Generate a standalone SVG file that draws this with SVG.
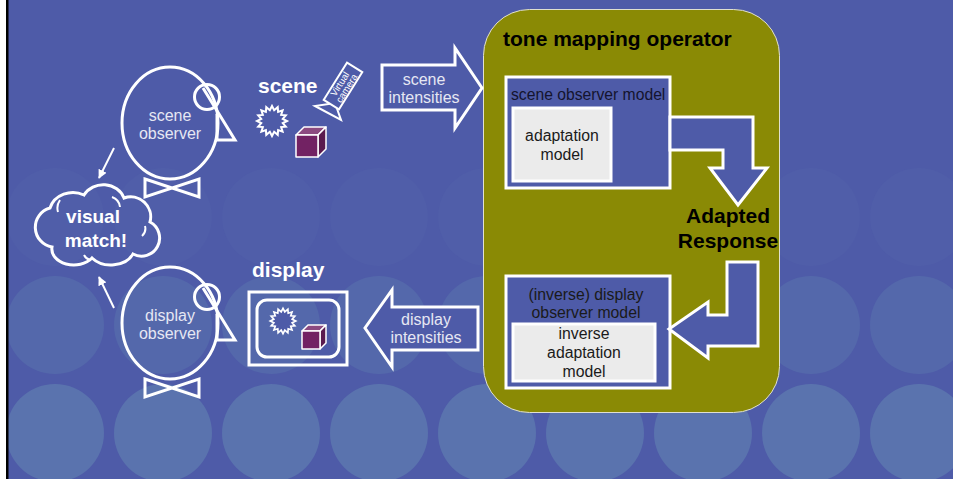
<svg xmlns="http://www.w3.org/2000/svg" width="953" height="479" viewBox="0 0 953 479">
  <style>
    text { font-family: "Liberation Sans", Arial, sans-serif; }
    .lite { fill: #E6E7F3; font-size: 16px; text-anchor: middle; }
    .head { fill: #FFFFFF; font-size: 21px; font-weight: bold; }
    .dark { fill: #14142E; font-size: 15.7px; }
    .darkc { fill: #1A1A1A; font-size: 15.8px; text-anchor: middle; }
    .bold { fill: #000000; font-size: 21px; font-weight: bold; }
    .outline { fill: none; stroke: #FFFFFF; stroke-width: 3; }
    .wire { fill: none; stroke: #FFFFFF; stroke-width: 2; }
    .blockarrow { fill: #4E5BA8; stroke: #FFFFFF; stroke-width: 3; stroke-linejoin: miter; }
    .model { fill: #4E5BA8; stroke: #FFFFFF; stroke-width: 3; }
    .inner { fill: #EBEBEB; stroke: #FFFFFF; stroke-width: 3; }
    .burst { fill: #4E5BA8; stroke: #FFFFFF; stroke-width: 2; stroke-linejoin: miter; }
    .cube-front { fill: #722263; stroke: #FFFFFF; stroke-width: 1.5; stroke-linejoin: round; }
    .cube-top { fill: #8C4A80; stroke: #FFFFFF; stroke-width: 1.5; stroke-linejoin: round; }
    .cube-side { fill: #5A1A4E; stroke: #FFFFFF; stroke-width: 1.5; stroke-linejoin: round; }
  </style>
  <defs>
    <marker id="tip" viewBox="0 0 10 10" refX="9" refY="5" markerWidth="4.5" markerHeight="4.5" orient="auto" markerUnits="strokeWidth">
      <path d="M0,0 L10,5 L0,10 Z" fill="#FFFFFF"/>
    </marker>
    <!-- 16-point starburst centred on the origin -->
    <polygon id="star" points="15,0 10.79,2.15 13.86,5.74 9.15,6.11 10.61,10.61 6.11,9.15 5.74,13.86 2.15,10.79 0,15 -2.15,10.79 -5.74,13.86 -6.11,9.15 -10.61,10.61 -9.15,6.11 -13.86,5.74 -10.79,2.15 -15,0 -10.79,-2.15 -13.86,-5.74 -9.15,-6.11 -10.61,-10.61 -6.11,-9.15 -5.74,-13.86 -2.15,-10.79 0,-15 2.15,-10.79 5.74,-13.86 6.11,-9.15 10.61,-10.61 9.15,-6.11 13.86,-5.74 10.79,-2.15"/>
  </defs>

  <!-- background -->
  <rect x="0" y="0" width="953" height="479" fill="#4E5BA8"/>
  <g id="dots">
    <g fill="#505EA9">
      <circle cx="55" cy="217" r="49"/><circle cx="163" cy="217" r="49"/><circle cx="271" cy="217" r="49"/>
      <circle cx="379" cy="217" r="49"/><circle cx="487" cy="217" r="49"/><circle cx="595" cy="217" r="49"/>
      <circle cx="703" cy="217" r="49"/><circle cx="811" cy="217" r="49"/><circle cx="919" cy="217" r="49"/>
    </g>
    <g fill="#5468AB">
      <circle cx="55" cy="325" r="49"/><circle cx="163" cy="325" r="49"/><circle cx="271" cy="325" r="49"/>
      <circle cx="379" cy="325" r="49"/><circle cx="487" cy="325" r="49"/><circle cx="595" cy="325" r="49"/>
      <circle cx="703" cy="325" r="49"/><circle cx="811" cy="325" r="49"/><circle cx="919" cy="325" r="49"/>
    </g>
    <g fill="#5A73AE">
      <circle cx="55" cy="433" r="49"/><circle cx="163" cy="433" r="49"/><circle cx="271" cy="433" r="49"/>
      <circle cx="379" cy="433" r="49"/><circle cx="487" cy="433" r="49"/><circle cx="595" cy="433" r="49"/>
      <circle cx="703" cy="433" r="49"/><circle cx="811" cy="433" r="49"/><circle cx="919" cy="433" r="49"/>
    </g>
  </g>
  <rect x="0" y="0" width="6" height="479" fill="#FFFFFF"/>
  <rect x="6" y="0" width="2.5" height="479" fill="#000000"/>

  <!-- tone mapping operator -->
  <g id="tmo">
    <rect x="483.5" y="9.5" width="296" height="403" rx="46" ry="46" fill="#8A8A05" stroke="#E0E0D0" stroke-width="1"/>
    <text class="bold" x="503" y="46" font-size="21.6">tone mapping operator</text>
  </g>

  <g id="scene-observer-model">
    <rect class="model" x="506" y="77" width="164" height="111"/>
    <text class="dark" x="511" y="100">scene observer model</text>
  </g>
  <g id="adaptation-model">
    <rect class="inner" x="513" y="108" width="98" height="73"/>
    <text class="darkc" x="562" y="141">adaptation</text>
    <text class="darkc" x="562" y="160">model</text>
  </g>

  <g id="adapted-response">
    <text class="bold" x="728" y="223" text-anchor="middle">Adapted</text>
    <text class="bold" x="728" y="248" text-anchor="middle">Response</text>
  </g>

  <g id="display-observer-model">
    <rect class="model" x="506" y="276" width="164" height="112"/>
    <text class="darkc" x="586" y="300">(inverse) display</text>
    <text class="darkc" x="586" y="318">observer model</text>
  </g>
  <g id="inverse-adaptation-model">
    <rect class="inner" x="513" y="324" width="142" height="57"/>
    <text class="darkc" x="584" y="339">inverse</text>
    <text class="darkc" x="584" y="358">adaptation</text>
    <text class="darkc" x="584" y="377">model</text>
  </g>

  <!-- scene observer -->
  <g id="scene-observer">
    <ellipse class="outline" cx="170" cy="123" rx="48" ry="56"/>
    <circle class="outline" cx="207" cy="97" r="12.5"/>
    <polyline class="outline" points="217,114 217,140 235,140 203,88"/>
    <path class="outline" d="M145,179 L199,197 L199,179 L145,197 Z"/>
    <text class="lite" x="170" y="121">scene</text>
    <text class="lite" x="170" y="139">observer</text>
  </g>

  <!-- display observer -->
  <g id="display-observer">
    <ellipse class="outline" cx="170" cy="323" rx="48" ry="56"/>
    <circle class="outline" cx="207" cy="297" r="12.5"/>
    <polyline class="outline" points="217,314 217,340 235,340 203,288"/>
    <path class="outline" d="M145,379 L199,397 L199,379 L145,397 Z"/>
    <text class="lite" x="170" y="321">display</text>
    <text class="lite" x="170" y="339">observer</text>
  </g>

  <!-- visual match cloud -->
  <g id="visual-match">
    <path class="outline" stroke-width="2.5" d="M52,247 A20,20 0 0 1 50,208 A24,22 0 0 1 84,195 A22,20 0 0 1 124,198 A20,20 0 0 1 150,222 A18,18 0 0 1 133,254 A24,18 0 0 1 92,258 A22,16 0 0 1 52,247 Z"/>
    <path class="wire" d="M58,212 A14,14 0 0 1 60,200 M112,197 A12,12 0 0 1 120,207 M145,226 A10,10 0 0 1 142,236 M84,255 A10,10 0 0 0 90,260"/>
    <text x="93" y="223" fill="#FFFFFF" font-size="19" font-weight="bold" text-anchor="middle">visual</text>
    <text x="96" y="247" fill="#FFFFFF" font-size="19" font-weight="bold" text-anchor="middle">match!</text>
  </g>

  <!-- scene -->
  <g id="scene">
    <text class="head" x="258" y="93">scene</text>
    <use href="#star" class="burst" transform="translate(272,121)"/>
    <polygon class="cube-top" points="296,135 304,127 326,127 318,135"/>
    <polygon class="cube-side" points="318,135 326,127 326,149 318,157"/>
    <rect class="cube-front" x="296" y="135" width="22" height="22"/>
  </g>

  <!-- virtual camera -->
  <g id="virtual-camera">
    <polygon class="burst" points="315,106 341,120 335,103"/>
    <g transform="translate(343,86) rotate(-58)">
      <rect x="-22" y="-9" width="44" height="18" fill="#4E5BA8" stroke="#FFFFFF" stroke-width="2"/>
      <text x="0" y="-0.5" fill="#FFFFFF" font-size="9.5" text-anchor="middle">Virtual</text>
      <text x="0" y="7.5" fill="#FFFFFF" font-size="9.5" text-anchor="middle">camera</text>
    </g>
  </g>

  <!-- display -->
  <g id="display">
    <text class="head" x="252" y="277">display</text>
    <rect class="outline" x="249" y="292" width="98" height="73"/>
    <rect class="outline" x="257" y="300" width="82" height="57" rx="10" ry="10"/>
    <use href="#star" class="burst" transform="translate(283,321) scale(0.85)"/>
    <polygon class="cube-top" points="302,331 308,325 326,325 320,331"/>
    <polygon class="cube-side" points="320,331 326,325 326,343 320,349"/>
    <rect class="cube-front" x="302" y="331" width="18" height="18"/>
  </g>

  <!-- block arrows with labels -->
  <g id="scene-intensities">
    <polygon class="blockarrow" points="382,65 455,65 455,48 482,88 455,128 455,110 382,110"/>
    <text class="lite" x="424" y="85">scene</text>
    <text class="lite" x="424" y="103">intensities</text>
  </g>
  <g id="display-intensities">
    <polygon class="blockarrow" points="478,307 392,307 392,290 365,328 392,367 392,350 478,350"/>
    <text class="lite" x="426" y="325">display</text>
    <text class="lite" x="426" y="343">intensities</text>
  </g>

  <!-- connectors -->
  <g id="connectors">
    <polygon class="blockarrow" points="670,117 753,117 753,168 767,168 738,205 710,168 723,168 723,150 670,150"/>
    <polygon class="blockarrow" points="727,262 758,262 758,346 708,346 708,358 669,329 708,302 708,315 727,315"/>
    <line class="wire" x1="114" y1="148" x2="99" y2="178" marker-end="url(#tip)"/>
    <line class="wire" x1="114" y1="308" x2="99" y2="277" marker-end="url(#tip)"/>
  </g>
</svg>
